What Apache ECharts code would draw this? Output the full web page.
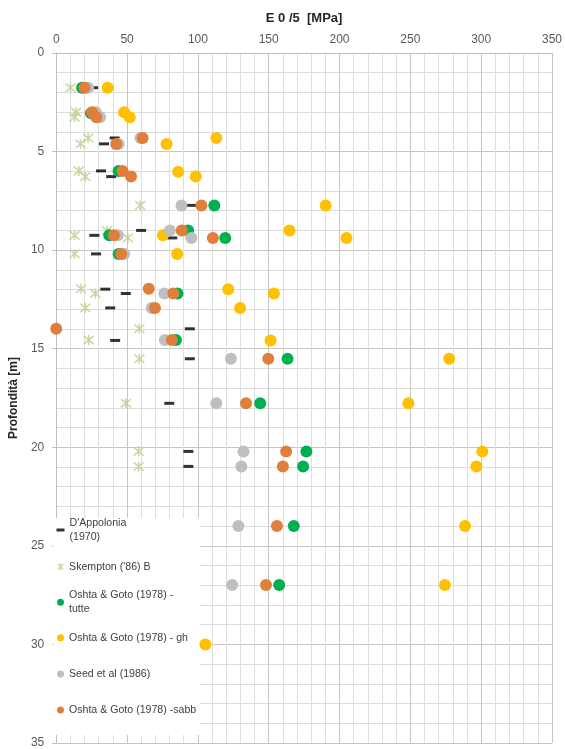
<!DOCTYPE html>
<html>
<head>
<meta charset="utf-8">
<script src="https://cdn.jsdelivr.net/npm/echarts@6/dist/echarts.min.js"></script>
<style>
html,body{margin:0;padding:0;background:#fff;}
#chart{width:565px;height:749px;}
</style>
</head>
<body>
<div id="chart"></div>
<script>
// ---- data: depth [m] and E0/5 [MPa] per series ----
const seriesNames = ["D'Appolonia (1970)", "Skempton ('86) B", "Oshta & Goto (1978) - tutte", "Oshta & Goto (1978) - gh", "Seed et al (1986)", "Oshta & Goto (1978) -sabb"];

const dappDepth = [1.76, 4.61, 4.31, 5.98, 6.27, 7.73, 9.25, 9.0, 9.38, 10.19, 11.98, 12.2, 12.93, 13.99, 14.58, 15.51, 17.77, 20.21, 20.97];
const dappE     = [26, 33.7, 41.2, 31.6, 38.8, 95.4, 26.9, 59.9, 81.9, 28.1, 34.6, 49.1, 38.1, 94.3, 41.6, 94.3, 79.8, 93.3, 93.3];

const skemDepth = [1.76, 3.0, 3.26, 4.31, 4.61, 5.98, 6.27, 7.73, 9.25, 9.0, 9.38, 10.19, 11.96, 12.2, 12.93, 13.99, 14.56, 15.51, 17.77, 20.21, 20.97];
const skemE     = [10.1, 14, 12.9, 22.5, 17.1, 15.9, 20.6, 59.2, 12.9, 35.8, 50.5, 12.9, 17.5, 27.6, 20.6, 58.7, 22.9, 58.7, 49.1, 58.2, 58.2];

const tutteDepth = [1.76, 3.05, 5.98, 7.73, 9.25, 9.0, 9.38, 10.19, 12.2, 14.56, 15.51, 17.77, 20.21, 20.97, 23.99, 26.99];
const tutteE     = [18.2, 24.5, 44, 111.6, 37.4, 93.1, 119.3, 44, 85.6, 84.5, 163.3, 144, 176.6, 174.3, 167.7, 157.4];

const ghDepth = [1.76, 3.0, 3.26, 4.31, 4.61, 6.02, 6.27, 7.73, 9.0, 9.25, 9.38, 10.19, 11.98, 12.2, 12.93, 14.58, 15.51, 17.77, 20.21, 20.97, 23.99, 26.99, 30.0];
const ghE     = [36.3, 47.9, 51.9, 113, 77.9, 86.1, 98.5, 190.2, 164.7, 75.3, 204.9, 85.4, 121.4, 153.7, 129.8, 151.3, 277.4, 248.6, 300.8, 296.6, 288.6, 274.4, 105.3];

const seedDepth = [1.76, 3.0, 3.26, 4.61, 4.31, 7.73, 9.25, 9.0, 9.38, 10.19, 12.2, 12.93, 14.56, 15.51, 17.77, 20.21, 20.97, 23.99, 26.99];
const seedE     = [22.5, 28, 31, 44, 59.5, 88.4, 43.5, 80.2, 95.4, 48, 76.3, 67.4, 76.7, 123.3, 113, 132.2, 130.7, 128.6, 124.2];

const sabbDepth = [1.76, 3.0, 3.26, 4.31, 4.61, 5.98, 6.27, 7.73, 9.25, 9.0, 9.38, 10.19, 11.96, 12.2, 12.93, 13.99, 14.56, 15.51, 17.77, 20.21, 20.97, 23.99, 26.99];
const sabbE     = [19.9, 25.3, 28.3, 61, 42.3, 46.8, 52.8, 102.5, 40.7, 88.6, 110.6, 45.8, 65.3, 82.6, 69.7, 0, 81.6, 149.7, 134, 162.3, 160, 155.8, 148.1];

const xTicks = [0, 50, 100, 150, 200, 250, 300, 350];
const yTicks = [0, 5, 10, 15, 20, 25, 30, 35];

// ---- build ----
function zip(e, d) { return e.map((v, i) => [v, d[i]]); }
const FONT = 'Liberation Sans';
const starPath = 'path://M0,0L10,10M10,0L0,10M5,-1L5,11';
const colors = ['#000000', '#b9cf8c', '#00b050', '#ffc000', '#bfbfbf', '#df7f3b'];

const chart = echarts.init(document.getElementById('chart'), null, {renderer: 'canvas'});

const circle = (name, data, color) => ({
  name: name, type: 'scatter', data: data, symbol: 'circle', symbolSize: 12,
  itemStyle: {color: color, opacity: 1}, emphasis: {disabled: true}, z: 3
});

const series = [
  {name: seriesNames[0], type: 'scatter', data: zip(dappE, dappDepth), symbol: 'rect', symbolSize: [10, 3],
   itemStyle: {color: colors[0]}, z: 3},
  {name: seriesNames[1], type: 'scatter', data: zip(skemE, skemDepth), symbol: starPath, symbolSize: 10,
   itemStyle: {color: 'transparent', borderColor: colors[1], borderWidth: 1.6}, z: 3},
  circle(seriesNames[2], zip(tutteE, tutteDepth), colors[2]),
  circle(seriesNames[3], zip(ghE, ghDepth), colors[3]),
  circle(seriesNames[4], zip(seedE, seedDepth), colors[4]),
  circle(seriesNames[5], zip(sabbE, sabbDepth), colors[5])
];

const legendCenters = [530, 566.7, 602.3, 637.7, 674, 710];
const LH = 14;
const legends = seriesNames.map((n, i) => {
  const twoLine = (i === 0 || i === 2);
  let fmt = n;
  if (i === 0) fmt = "D'Appolonia\n(1970)";
  if (i === 2) fmt = "Oshta & Goto (1978) -\ntutte";
  const lg = {
    data: [n], orient: 'vertical', padding: 0, itemGap: 0, z: 10,
    left: 57, top: twoLine ? legendCenters[i] - 1.5 * LH : legendCenters[i] - LH / 2,
    itemWidth: 7, itemHeight: 7, icon: 'circle', selectedMode: false,
    formatter: () => fmt,
    textStyle: {fontFamily: FONT, fontSize: 10.6, color: '#404040', lineHeight: LH,
                padding: twoLine ? [LH, 0, 0, 0] : 0}
  };
  if (i === 0) { lg.icon = 'rect'; lg.itemWidth = 8; lg.itemHeight = 3; lg.left = 56.5; lg.itemStyle = {color: '#000'}; }
  if (i === 1) { lg.icon = starPath; lg.itemWidth = 7; lg.itemHeight = 7;
                 lg.itemStyle = {color: 'transparent', borderColor: colors[1], borderWidth: 1.3}; }
  return lg;
});

chart.setOption({
  animation: false,
  backgroundColor: '#ffffff',
  grid: {left: 53, right: 13, top: 53, bottom: 5, containLabel: false},
  xAxis: {
    type: 'value', position: 'top', min: 0, max: 350, interval: 50,
    name: 'E 0 /5  [MPa]', nameLocation: 'middle', nameGap: 28,
    nameTextStyle: {fontFamily: FONT, fontSize: 13, fontWeight: 'bold', color: '#262626'},
    axisLine: {show: true, lineStyle: {color: '#bfbfbf', width: 1}},
    axisTick: {show: false},
    axisLabel: {fontFamily: FONT, fontSize: 12, color: '#595959', margin: 7,
                formatter: v => xTicks.includes(v) ? String(v) : ''},
    splitLine: {show: true, lineStyle: {color: '#c6c6c6', width: 1}},
    minorTick: {show: false, splitNumber: 5},
    minorSplitLine: {show: true, lineStyle: {color: '#dedede', width: 1}}
  },
  yAxis: {
    type: 'value', inverse: true, min: 0, max: 35, interval: 5,
    name: 'Profondità [m]', nameLocation: 'middle', nameGap: 34, nameRotate: 90,
    nameTextStyle: {fontFamily: FONT, fontSize: 12, fontWeight: 'bold', color: '#262626'},
    axisLine: {show: true, lineStyle: {color: '#bfbfbf', width: 1}},
    axisTick: {show: true, length: 4, lineStyle: {color: '#bfbfbf'}},
    axisLabel: {fontFamily: FONT, fontSize: 12, color: '#595959', margin: 12,
                formatter: v => yTicks.includes(v) ? String(v) : ''},
    splitLine: {show: true, lineStyle: {color: '#c6c6c6', width: 1}},
    minorTick: {show: false, splitNumber: 5},
    minorSplitLine: {show: true, lineStyle: {color: '#dcdcdc', width: 1}}
  },
  legend: legends,
  graphic: [{
    type: 'rect', z: 1, silent: true,
    shape: {x: 53.5, y: 518, width: 146, height: 217},
    style: {fill: '#ffffff'}
  }],
  series: series
});
</script>
</body>
</html>
